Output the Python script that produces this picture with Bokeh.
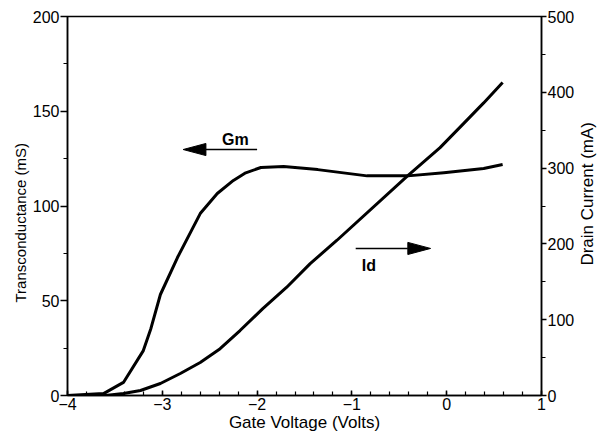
import math
from bokeh.plotting import figure
from bokeh.layouts import row
from bokeh.models import Range1d, LinearAxis, SingleIntervalTicker, Label, Title
from bokeh.embed import file_html
from bokeh.resources import INLINE

# Data
gate_v_gm = [-4.0, -3.62, -3.41, -3.20, -3.12, -3.02, -2.84, -2.60, -2.42, -2.25, -2.12, -1.96,
             -1.72, -1.36, -0.84, -0.41, -0.03, 0.39, 0.59]
gm_ms = [0.0, 1.0, 6.9, 23.7, 35.4, 53.3, 72.8, 96.0, 106.6, 113.5, 117.5, 120.3,
         120.8, 119.2, 115.9, 115.9, 117.6, 119.8, 121.9]

gate_v_id = [-4.0, -3.6, -3.41, -3.23, -3.02, -2.81, -2.60, -2.39, -2.18, -1.94, -1.69,
             -1.44, -1.16, -0.41, -0.07, 0.18, 0.39, 0.59]
id_ma = [0.0, 0.0, 2.6, 6.6, 15.8, 29.0, 43.5, 61.7, 85.7, 114.7, 142.5,
         174.0, 204.5, 290.0, 327.0, 359.0, 386.0, 413.0]

# Annotation arrows (tail x, tip x, y in mS units) and labels
gm_arrow = dict(x_tail=-2.0, x_tip=-2.78, y=129.8)
id_arrow = dict(x_tail=-0.96, x_tip=-0.17, y=77.6)
gm_label = dict(x=-2.23, y=135.0, text="Gm")
id_label = dict(x=-0.82, y=68.6, text="Id")

# Axis titles
x_title = "Gate Voltage (Volts)"
left_title = "Transconductance (mS)"
right_title = "Drain Current (mA)"

FONT = "Liberation Sans"

p = figure(width=577, height=436, output_backend="svg", toolbar_location=None,
           x_range=Range1d(-4, 1), y_range=Range1d(0, 200))
p.min_border_left = 67
p.min_border_right = 36
p.min_border_top = 16
p.min_border_bottom = 41
p.xgrid.visible = False
p.ygrid.visible = False
p.outline_line_color = "black"
p.outline_line_width = 1.5
p.background_fill_color = "white"
p.border_fill_color = "white"

p.extra_y_ranges = {"id": Range1d(0, 500)}

# X axis
xa = p.xaxis[0]
xa.ticker = SingleIntervalTicker(interval=1, num_minor_ticks=5)
xa.axis_label = x_title
xa.major_tick_in = 5
xa.major_tick_out = 0
xa.minor_tick_in = 4
xa.minor_tick_out = 0
xa.major_label_standoff = 2
xa.axis_label_standoff = 0

# Left axis
ya = p.yaxis[0]
ya.ticker = SingleIntervalTicker(interval=50, num_minor_ticks=2)
ya.major_tick_in = 0
ya.major_tick_out = 7
ya.minor_tick_in = 0
ya.minor_tick_out = 4
ya.major_label_standoff = 1

# Right axis
ra = LinearAxis(y_range_name="id")
ra.ticker = SingleIntervalTicker(interval=100, num_minor_ticks=2)
ra.major_tick_in = 0
ra.major_tick_out = 5
ra.minor_tick_in = 0
ra.minor_tick_out = 4
ra.major_label_standoff = 1
p.add_layout(ra, "right")

for ax in [xa, ya, ra]:
    ax.axis_line_color = "black"
    ax.axis_line_width = 1.5
    ax.major_tick_line_color = "black"
    ax.major_tick_line_width = 1.5
    ax.minor_tick_line_color = "black"
    ax.minor_tick_line_width = 1.2
    ax.major_label_text_font = FONT
    ax.major_label_text_font_size = "16px"
    ax.major_label_text_color = "black"
    ax.axis_label_text_font = FONT
    ax.axis_label_text_font_size = "17px"
    ax.axis_label_text_font_style = "normal"
    ax.axis_label_text_color = "black"

# Left side title (placed slightly below centre, as in the original)
lt = Title(text=left_title, align="left", offset=93, standoff=2,
           text_font=FONT, text_font_size="15px", text_font_style="normal", text_color="black")
p.add_layout(lt, "left")

# Curves
p.line(gate_v_gm, gm_ms, line_color="black", line_width=3, line_join="round")
p.line(gate_v_id, id_ma, y_range_name="id", line_color="black", line_width=3, line_join="round")

# Arrows: shaft + head (head computed from arrow geometry)
head_len = 0.24   # volts
head_half = 3.2   # mS
for a in (gm_arrow, id_arrow):
    d = 1 if a["x_tip"] > a["x_tail"] else -1
    base = a["x_tip"] - d * head_len
    p.line([a["x_tail"], base], [a["y"], a["y"]], line_color="black", line_width=1.5)
    p.patch([a["x_tip"], base, base], [a["y"], a["y"] + head_half, a["y"] - head_half],
            fill_color="black", line_color="black", line_width=1)

for lab in (gm_label, id_label):
    p.add_layout(Label(x=lab["x"], y=lab["y"], text=lab["text"], text_font=FONT,
                       text_font_size="16px", text_font_style="bold", text_color="black",
                       text_align="center", text_baseline="middle"))

# Narrow strip holding the right-hand axis title (reads bottom to top)
p2 = figure(width=20, height=436, output_backend="svg", toolbar_location=None,
            x_range=Range1d(0, 1), y_range=Range1d(0, 436),
            x_axis_location=None, y_axis_location=None, min_border=0)
p2.grid.visible = False
p2.outline_line_color = None
p2.background_fill_color = "white"
p2.border_fill_color = "white"
p2.add_layout(Label(x=0.5, y=232, text=right_title, angle=math.pi / 2,
                    text_font=FONT, text_font_size="17px", text_color="black",
                    text_align="center", text_baseline="middle"))

layout = row(p, p2, spacing=0)
open("out.html", "w").write(file_html(layout, INLINE))
